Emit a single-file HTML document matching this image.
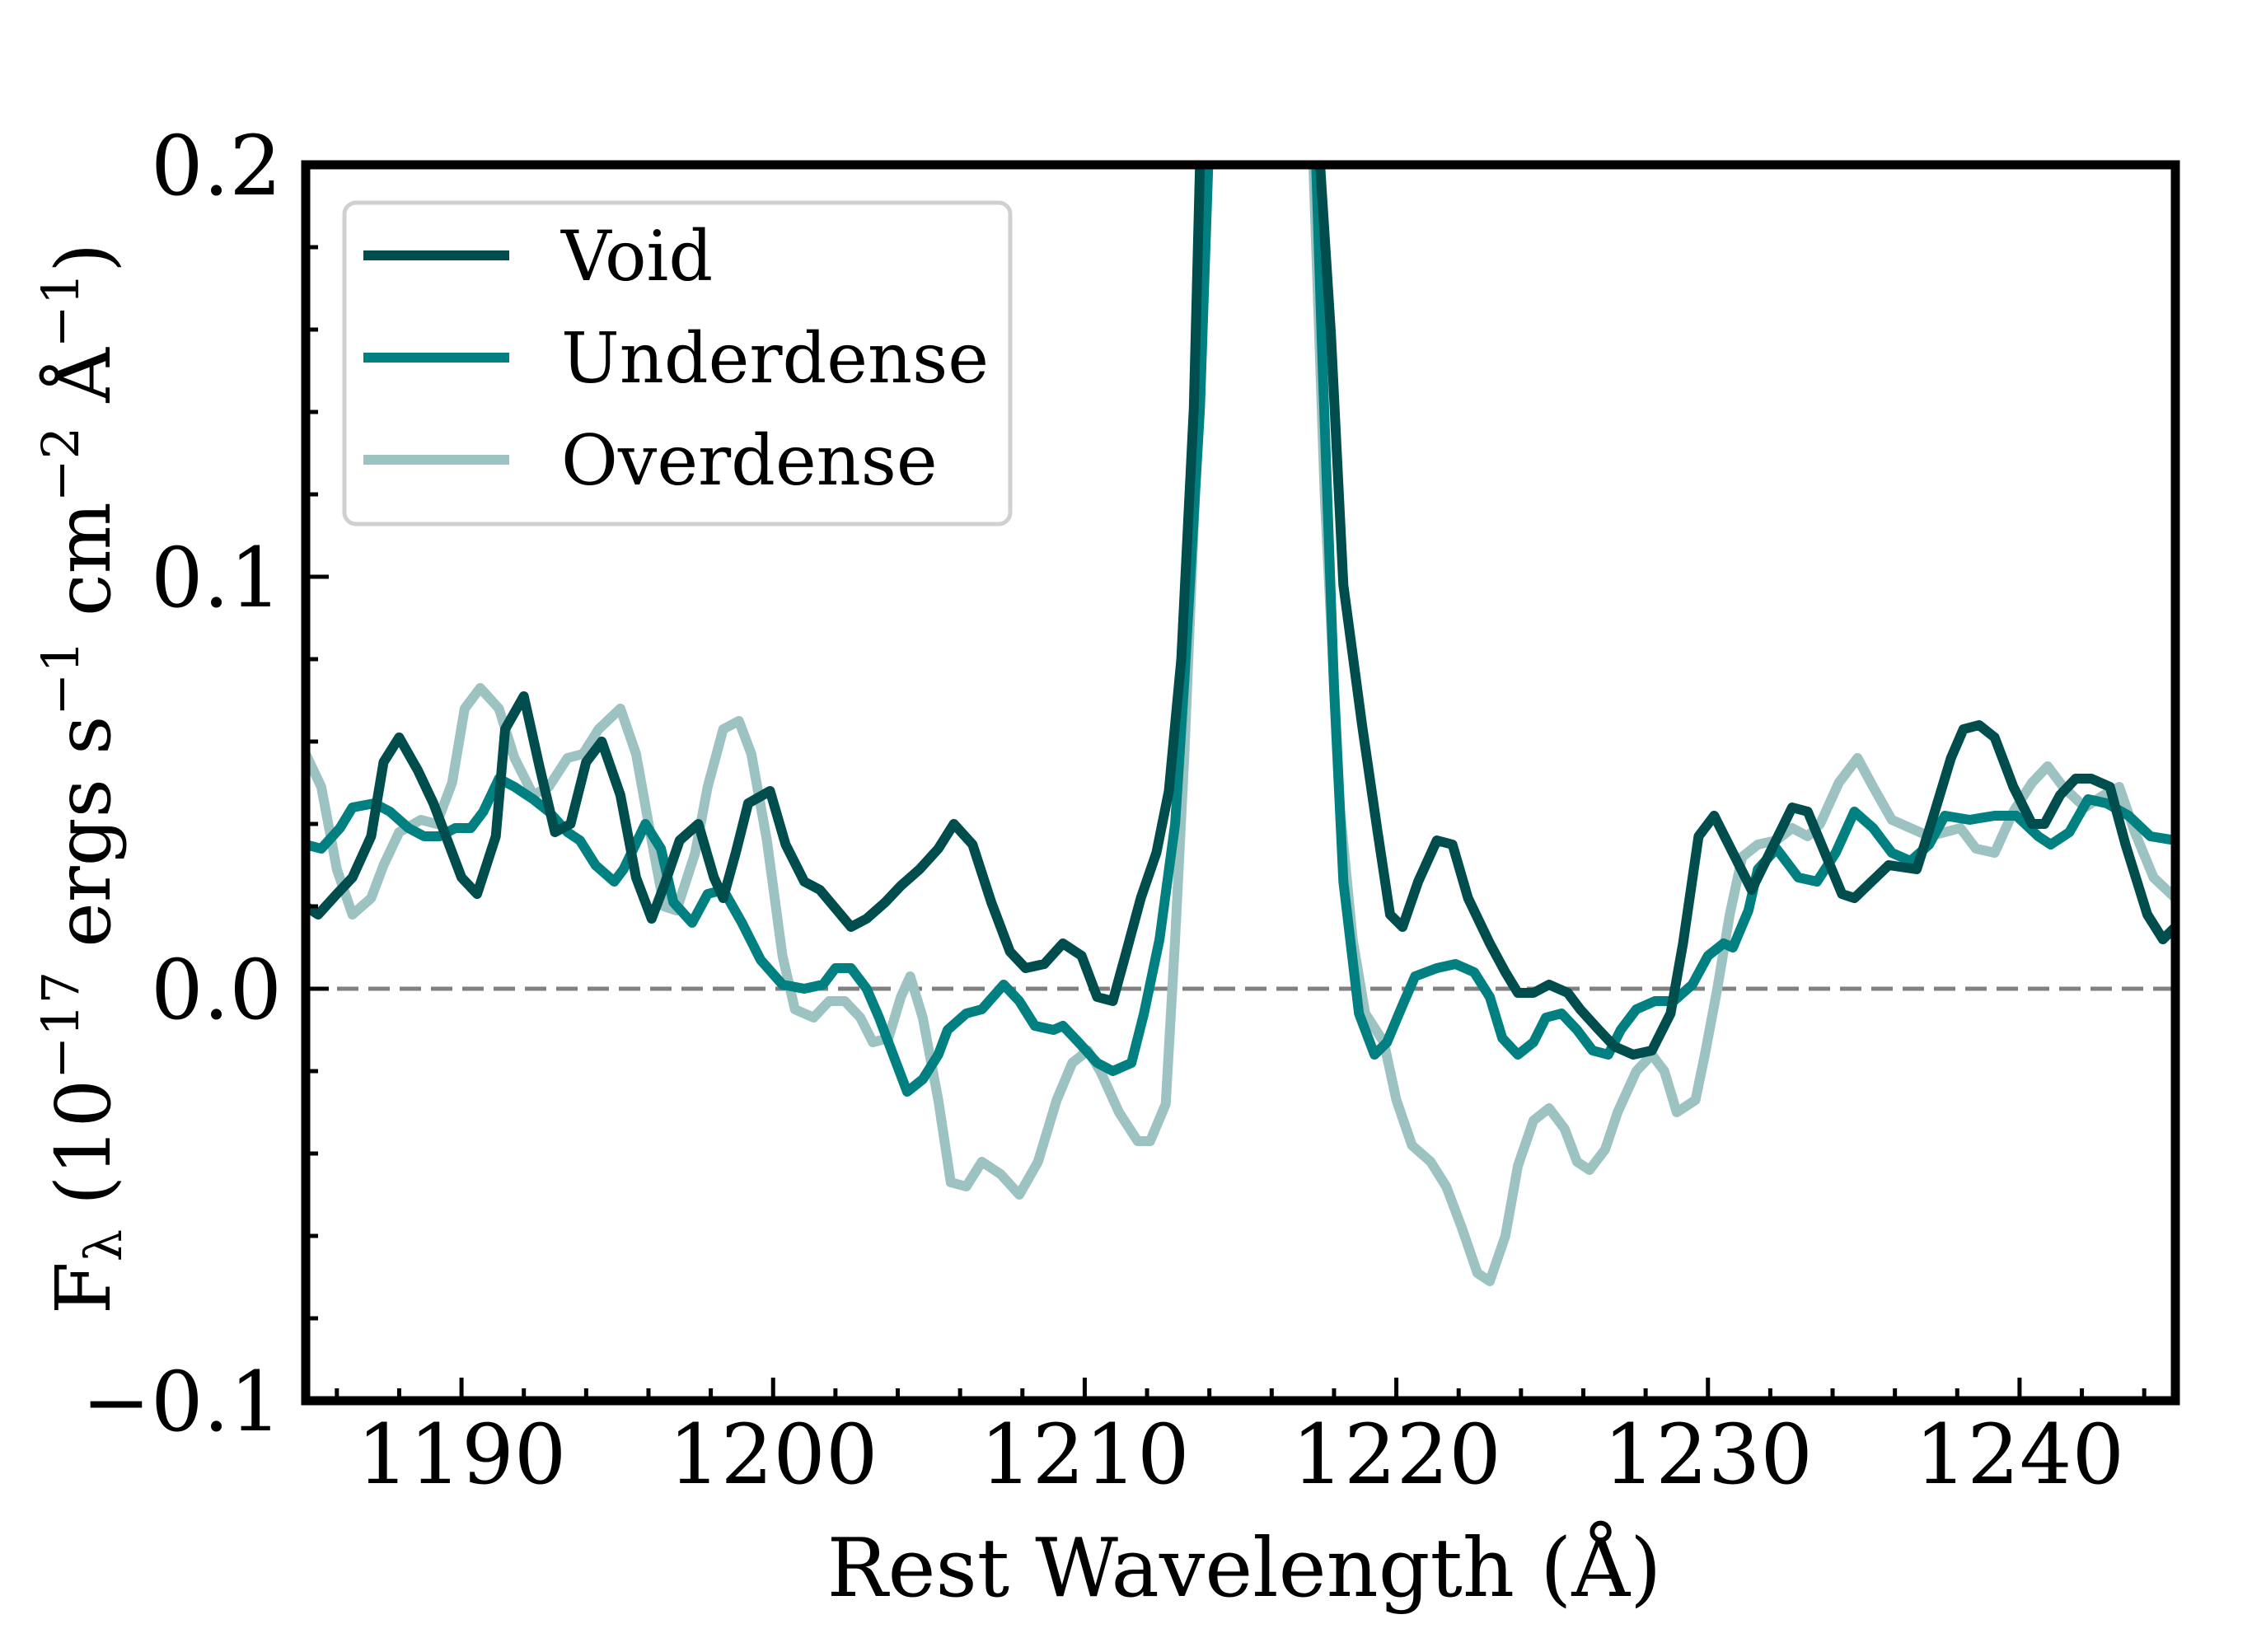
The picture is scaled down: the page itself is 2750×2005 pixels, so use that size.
<!DOCTYPE html>
<html><head><meta charset="utf-8"><style>
html,body{margin:0;padding:0;background:#fff}
svg text{font-family:"DejaVu Serif","Liberation Serif",serif;fill:#000}
</style></head><body>
<svg id="chart" width="2750" height="2000" viewBox="0 0 2750 2000" xmlns="http://www.w3.org/2000/svg">
<defs><clipPath id="plotclip"><rect x="371" y="200" width="2269" height="1500"/></clipPath></defs>
<rect x="0" y="0" width="2750" height="2000" fill="#fff"/>
<g id="series" clip-path="url(#plotclip)"></g>
<g id="axes"></g>
<g id="legend">
  <rect x="418" y="246" width="808" height="390" rx="14" fill="#fff" fill-opacity="0.8" stroke="#d0d0d0" stroke-width="5"/>
  <line x1="441" y1="310" x2="618" y2="310" stroke="#004d4d" stroke-width="12"/>
  <text x="681" y="340" font-size="84">Void</text>
  <line x1="441" y1="434" x2="618" y2="434" stroke="#008080" stroke-width="12"/>
  <text x="681" y="464" font-size="84">Underdense</text>
  <line x1="441" y1="558" x2="618" y2="558" stroke="#9cc3c1" stroke-width="12"/>
  <text x="681" y="588" font-size="84">Overdense</text>
</g>
<text x="1510" y="1937" font-size="98" text-anchor="middle">Rest Wavelength (Å)</text>
<text transform="translate(133,945) rotate(-90)" font-size="92" text-anchor="middle">F<tspan font-size="62" dy="14">λ</tspan><tspan dy="-14"> (10</tspan><tspan font-size="62" dy="-38">−17</tspan><tspan dy="38"> ergs s</tspan><tspan font-size="62" dy="-38">−1</tspan><tspan dy="38"> cm</tspan><tspan font-size="62" dy="-38">−2</tspan><tspan dy="38"> Å</tspan><tspan font-size="62" dy="-38">−1</tspan><tspan dy="38">)</tspan></text>
</svg>
<script>
const voidWave=[1185.0,1185.4,1186.0,1186.5,1187.1,1187.5,1188.0,1188.6,1189.1,1190.0,1190.5,1191.1,1191.4,1192.0,1192.5,1193.0,1193.5,1194.0,1194.5,1195.1,1195.6,1196.1,1196.5,1197.0,1197.6,1198.1,1198.4,1198.8,1199.2,1199.9,1200.4,1201.0,1201.5,1202.5,1203.0,1203.6,1204.1,1204.7,1205.3,1205.8,1206.4,1207.0,1207.6,1208.1,1208.7,1209.3,1209.9,1210.4,1210.9,1211.3,1211.8,1212.3,1212.7,1213.1,1213.5,1213.8,1217.3,1217.9,1218.3,1218.9,1219.4,1219.8,1220.2,1220.7,1221.3,1221.8,1222.3,1223.0,1223.5,1223.9,1224.4,1224.9,1225.5,1225.9,1226.5,1227.0,1227.6,1228.2,1228.8,1229.2,1229.7,1230.2,1231.4,1232.7,1233.2,1234.3,1234.7,1235.8,1236.7,1237.2,1237.8,1238.2,1238.7,1239.2,1239.8,1240.4,1240.8,1241.3,1241.8,1242.3,1242.9,1243.4,1244.1,1244.6,1245.0];
const voidFlux=[0.020,0.018,0.023,0.027,0.037,0.055,0.061,0.053,0.045,0.027,0.023,0.037,0.063,0.071,0.054,0.038,0.040,0.055,0.060,0.047,0.027,0.017,0.025,0.036,0.040,0.027,0.022,0.033,0.045,0.048,0.035,0.026,0.024,0.015,0.017,0.021,0.025,0.029,0.034,0.040,0.035,0.021,0.009,0.005,0.006,0.011,0.008,-0.002,-0.003,0.008,0.022,0.033,0.048,0.080,0.141,0.230,0.230,0.159,0.098,0.064,0.038,0.018,0.015,0.026,0.036,0.035,0.022,0.011,0.004,-0.001,-0.001,0.001,-0.001,-0.005,-0.010,-0.014,-0.016,-0.015,-0.006,0.011,0.037,0.042,0.024,0.044,0.043,0.023,0.022,0.030,0.029,0.041,0.056,0.063,0.064,0.061,0.049,0.040,0.040,0.047,0.051,0.051,0.049,0.035,0.018,0.012,0.015];
const underWave=[1185.0,1185.5,1186.1,1186.5,1187.2,1187.7,1188.3,1188.8,1189.3,1189.8,1190.3,1190.7,1191.2,1191.7,1192.3,1192.8,1193.4,1193.8,1194.3,1194.9,1195.2,1195.9,1196.4,1196.8,1197.4,1197.9,1198.4,1199.0,1199.6,1200.3,1201.0,1201.6,1202.0,1202.5,1203.0,1203.4,1203.9,1204.3,1204.8,1205.3,1205.6,1206.2,1206.7,1207.4,1207.9,1208.4,1209.0,1209.3,1209.8,1210.4,1210.9,1211.5,1211.9,1212.4,1212.9,1213.2,1213.7,1214.1,1217.3,1217.6,1218.0,1218.3,1218.8,1219.3,1219.7,1220.2,1220.6,1221.3,1221.9,1222.5,1223.0,1223.4,1223.9,1224.4,1224.8,1225.3,1225.8,1226.3,1226.8,1227.2,1227.7,1228.3,1228.9,1229.5,1230.0,1230.5,1230.8,1231.3,1231.6,1232.2,1232.9,1233.5,1234.1,1234.7,1235.3,1235.9,1236.5,1237.1,1237.6,1238.4,1239.2,1239.9,1240.6,1241.0,1241.6,1242.2,1242.8,1243.5,1244.2,1245.0];
const underFlux=[0.035,0.034,0.039,0.044,0.045,0.043,0.039,0.037,0.037,0.039,0.039,0.043,0.051,0.049,0.046,0.043,0.038,0.036,0.030,0.026,0.029,0.040,0.034,0.021,0.016,0.023,0.024,0.016,0.007,0.001,0.000,0.001,0.005,0.005,0.000,-0.007,-0.017,-0.025,-0.022,-0.016,-0.010,-0.006,-0.005,0.001,-0.003,-0.009,-0.010,-0.009,-0.013,-0.018,-0.020,-0.018,-0.006,0.012,0.040,0.075,0.141,0.230,0.230,0.159,0.073,0.026,-0.006,-0.016,-0.013,-0.004,0.003,0.005,0.006,0.004,-0.002,-0.012,-0.016,-0.013,-0.007,-0.006,-0.010,-0.015,-0.016,-0.010,-0.005,-0.003,-0.003,0.001,0.008,0.011,0.010,0.019,0.029,0.034,0.027,0.026,0.033,0.043,0.039,0.033,0.031,0.035,0.042,0.041,0.042,0.042,0.037,0.035,0.038,0.046,0.045,0.042,0.037,0.036];
const overWave=[1185.0,1185.5,1186.0,1186.5,1187.1,1187.5,1188.0,1188.7,1189.2,1189.7,1190.1,1190.6,1191.2,1191.7,1192.3,1192.8,1193.4,1193.9,1194.4,1195.1,1195.6,1196.1,1196.5,1196.9,1197.5,1197.9,1198.4,1198.9,1199.3,1199.8,1200.3,1200.7,1201.3,1201.8,1202.3,1202.8,1203.2,1203.7,1204.1,1204.4,1204.8,1205.3,1205.7,1206.2,1206.7,1207.3,1207.9,1208.5,1209.1,1209.6,1210.1,1210.5,1211.1,1211.7,1212.1,1212.6,1212.9,1213.2,1213.6,1214.0,1217.2,1217.7,1218.2,1218.6,1219.0,1219.6,1220.0,1220.5,1221.1,1221.6,1222.1,1222.6,1223.0,1223.5,1223.9,1224.4,1224.9,1225.4,1225.8,1226.2,1226.7,1227.1,1227.7,1228.2,1228.6,1229.0,1229.6,1229.9,1230.3,1230.7,1231.1,1231.6,1232.2,1232.7,1233.2,1233.6,1234.2,1234.8,1235.3,1235.9,1236.5,1237.1,1237.6,1238.1,1238.6,1239.2,1239.8,1240.4,1240.9,1241.4,1242.1,1242.7,1243.2,1243.7,1244.3,1245.0];
const overFlux=[0.057,0.049,0.029,0.018,0.022,0.030,0.038,0.041,0.040,0.050,0.068,0.073,0.068,0.056,0.047,0.049,0.056,0.057,0.063,0.068,0.057,0.036,0.020,0.019,0.033,0.049,0.063,0.065,0.057,0.036,0.008,-0.005,-0.007,-0.003,-0.003,-0.007,-0.013,-0.012,-0.002,0.003,-0.007,-0.027,-0.047,-0.048,-0.042,-0.045,-0.050,-0.042,-0.027,-0.018,-0.015,-0.020,-0.030,-0.037,-0.037,-0.028,0.012,0.057,0.131,0.230,0.230,0.120,0.043,0.012,-0.006,-0.013,-0.027,-0.038,-0.042,-0.048,-0.058,-0.069,-0.071,-0.060,-0.043,-0.032,-0.029,-0.034,-0.042,-0.044,-0.039,-0.030,-0.020,-0.016,-0.020,-0.030,-0.027,-0.016,0.000,0.018,0.032,0.035,0.036,0.039,0.037,0.040,0.050,0.056,0.049,0.041,0.039,0.037,0.038,0.039,0.034,0.033,0.043,0.050,0.054,0.049,0.044,0.047,0.049,0.038,0.027,0.022];
const xTickValues=[1190,1200,1210,1220,1230,1240];
const xTickLabels=["1190","1200","1210","1220","1230","1240"];
const yTickValues=[-0.1,0.0,0.1,0.2];
const yTickLabels=["−0.1","0.0","0.1","0.2"];

const X0=371,X1=2640,Y0=1700,Y1=200,XMIN=1185,XMAX=1245,YMIN=-0.1,YMAX=0.2;
const NS='http://www.w3.org/2000/svg';
function sx(v){return X0+(v-XMIN)/(XMAX-XMIN)*(X1-X0);}
function sy(v){return Y0-(v-YMIN)/(YMAX-YMIN)*(Y0-Y1);}
function mk(tag,attrs){const e=document.createElementNS(NS,tag);for(const k in attrs)e.setAttribute(k,attrs[k]);return e;}
const series=document.getElementById('series');
const axes=document.getElementById('axes');

const zl=mk('line',{x1:X0,x2:X1,y1:sy(0),y2:sy(0),stroke:'#808080','stroke-width':5,'stroke-dasharray':'26 12'});


series.appendChild(zl);

function drawLine(w,f,color,name){
  let d='';
  for(let i=0;i<w.length;i++){d+=(i?'L':'M')+sx(w[i]).toFixed(1)+','+sy(f[i]).toFixed(1);}
  const p=mk('path',{d:d,fill:'none',stroke:color,'stroke-width':12,'stroke-linejoin':'round','stroke-linecap':'butt'});
  
  
  series.appendChild(p);
}
drawLine(overWave,overFlux,'#9cc3c1','overdense-line');
drawLine(underWave,underFlux,'#008080','underdense-line');
drawLine(voidWave,voidFlux,'#004d4d','void-line');

for(let v=1186;v<=1244;v+=2){
  const major=(v%10===0);
  const t=mk('line',{x1:sx(v),x2:sx(v),y1:Y0,y2:Y0-(major?28:15),stroke:'#000','stroke-width':5});
  
  
  axes.appendChild(t);
}
for(let k=-5;k<=10;k++){
  const v=k*0.02; const major=(k%5===0);
  if(v<=YMIN+1e-9||v>=YMAX-1e-9)continue;
  const t=mk('line',{x1:X0,x2:X0+(major?28:15),y1:sy(v),y2:sy(v),stroke:'#000','stroke-width':5});
  
  
  axes.appendChild(t);
}
xTickValues.forEach((v,i)=>{
  const t=mk('text',{x:sx(v),y:1800,'font-size':100,'text-anchor':'middle'});
  t.textContent=xTickLabels[i];
  
  
  axes.appendChild(t);
});
yTickValues.forEach((v,i)=>{
  const t=mk('text',{x:342,y:sy(v)+36,'font-size':100,'text-anchor':'end'});
  t.textContent=yTickLabels[i];
  
  
  axes.appendChild(t);
});
const frame=mk('rect',{x:X0,y:Y1,width:X1-X0,height:Y0-Y1,fill:'none',stroke:'#000','stroke-width':11});


axes.appendChild(frame);
</script>
</body></html>
